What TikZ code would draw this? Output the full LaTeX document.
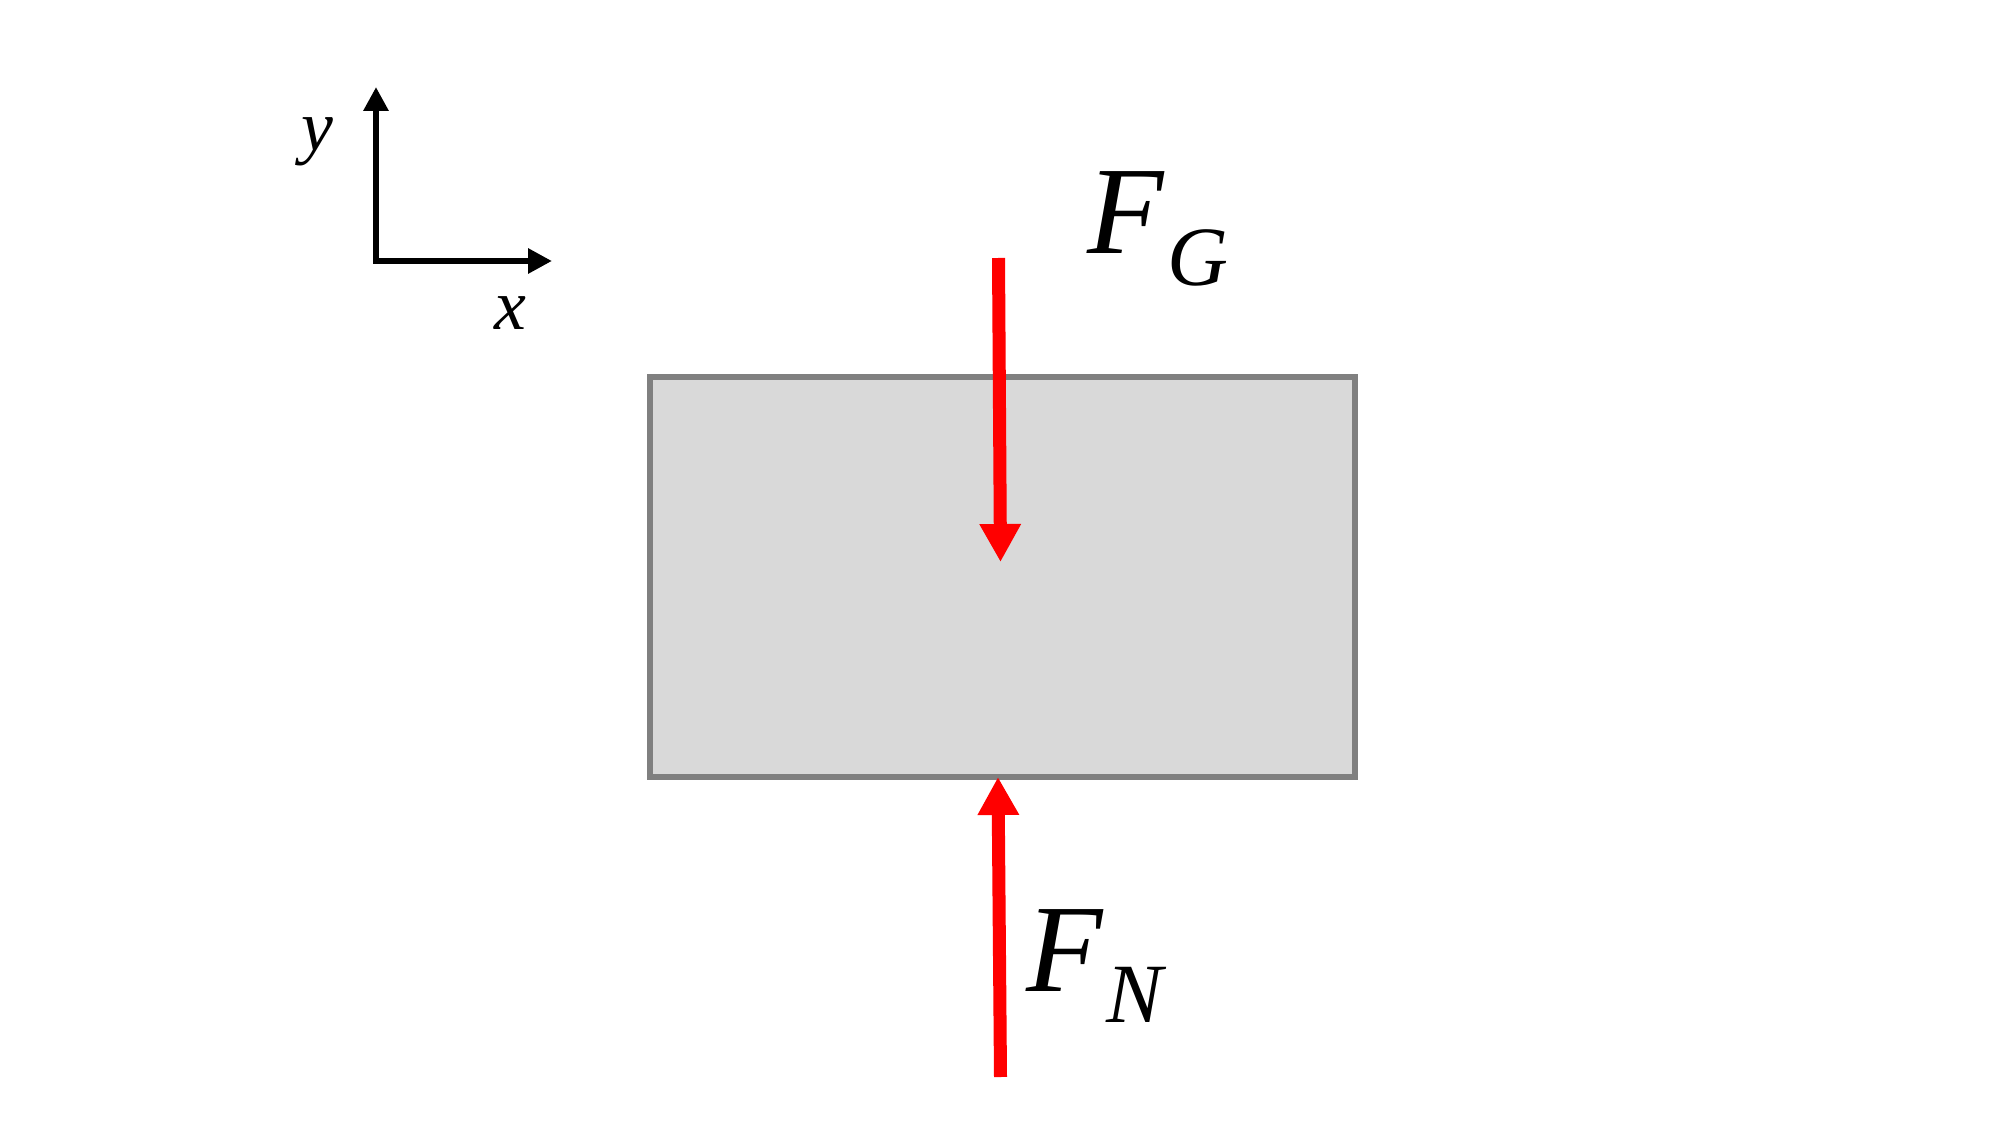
\documentclass[tikz,border=0pt]{standalone}
\usepackage{fontspec}
\setmainfont{Liberation Serif}
\usepackage{xcolor}
\usetikzlibrary{calc,arrows.meta}
\definecolor{frame}{HTML}{808080}
\definecolor{shade}{HTML}{D9D9D9}
\definecolor{force}{HTML}{FF0000}
\tikzset{
  block/.style={draw=frame, fill=shade, line width=1.7pt, minimum width=7.05cm, minimum height=4.00cm, inner sep=0pt},
  pull/.style={draw=force, line width=3.7pt, -{Triangle[length=0.38cm,width=0.39cm]}},
  axis/.style={draw=black, line width=1.7pt, line join=miter, {Triangle[length=0.24cm,width=0.24cm]}-{Triangle[length=0.24cm,width=0.24cm]}},
  lab/.style={inner sep=0pt, font=\fontsize{35.6}{36}\selectfont\itshape},
  labs/.style={inner sep=0pt, font=\fontsize{20.4}{21}\selectfont\itshape},
}
\newcommand{\subx}[1]{\kern1pt\raisebox{-9.1pt}{\fontsize{24}{24}\selectfont\itshape #1}}

\begin{document}
\begin{tikzpicture}
  \useasboundingbox (0,0) rectangle (20,11.25);
  % axes
  \coordinate (O) at (3.76,8.64);
  \coordinate (Y) at (3.76,10.38);
  \coordinate (X) at (5.52,8.64);
  \draw[axis] (Y) -- (O) -- (X);
  \node[labs,anchor=base] (ylab) at (3.17,9.74) {y};
  \node[labs,anchor=base] (xlab) at (5.10,7.95) {x};

  % block
  \node[block] (body) at (10.025,5.48) {};

  % forces
  \coordinate (G1) at (9.985,8.67);
  \coordinate (G2) at (10.005,5.63);
  \coordinate (N1) at (10.005,0.48);
  \coordinate (N2) at (9.98,3.48);
  \draw[pull] (G1) -- (G2);
  \draw[pull] (N1) -- (N2);
  \node[lab,anchor=base west] (fg) at (10.87,8.71) {F\subx{G}};
  \node[lab,anchor=base west] (fn) at (10.26,1.34) {F\subx{N}};
\end{tikzpicture}
\end{document}
